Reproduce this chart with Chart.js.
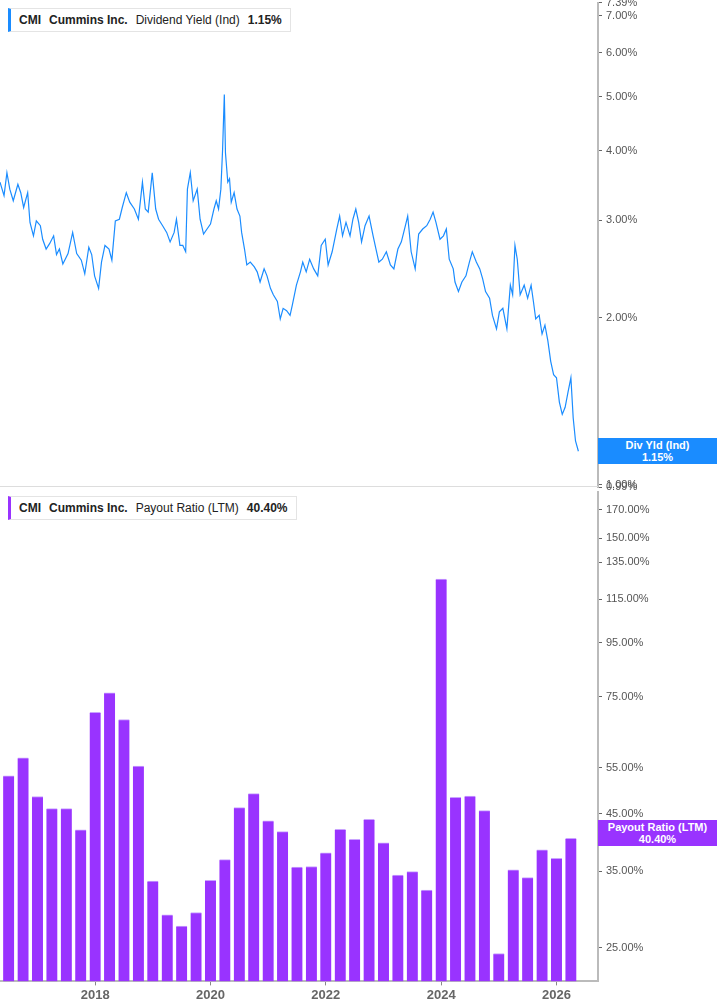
<!DOCTYPE html>
<html>
<head>
<meta charset="utf-8">
<script src="https://cdn.jsdelivr.net/npm/chart.js@4"></script>
<style>
  body { margin: 0; width: 717px; height: 1005px; background: #fff; position: relative; overflow: hidden; font-family: "Liberation Sans", Arial, sans-serif; }
  .panel { position: absolute; left: 0; width: 717px; }
  .legend { position: absolute; left: 8px; background: #fff; border: 1px solid #e4e4e4; border-left: 3px solid; font-size: 12px; color: #222; padding: 4px 8px 4px 8px; white-space: nowrap; }
  .legend b { margin-right: 8px; }
  .legend span { margin-right: 8px; }
  .tag { position: absolute; left: 598px; width: 119px; color: #fff; font-size: 11px; font-weight: bold; text-align: center; line-height: 12px; padding: 1px 0; }
  .sep { position: absolute; left: 0; width: 598px; top: 486px; height: 1px; background: #ddd; }
</style>
</head>
<body>
<div class="panel" style="top:-8px;height:506px"><canvas id="yieldChart"></canvas></div>
<div class="panel" style="top:481px;height:524px"><canvas id="payoutChart"></canvas></div>
<div class="sep"></div>
<div class="legend" style="top:8px;border-left-color:#1a8cff"><b>CMI</b><b>Cummins Inc.</b><span>Dividend Yield (Ind)</span><b style="margin-right:0">1.15%</b></div>
<div class="legend" style="top:496px;border-left-color:#9933ff"><b>CMI</b><b>Cummins Inc.</b><span>Payout Ratio (LTM)</span><b style="margin-right:0">40.40%</b></div>
<div class="tag" style="top:438px;background:#1a8cff">Div Yld (Ind)<br>1.15%</div>
<div class="tag" style="top:820px;background:#9933ff">Payout Ratio (LTM)<br>40.40%</div>
<script>
// dividend yield (%), decimal years
const yieldDates = [2016.35,2016.42,2016.47,2016.52,2016.58,2016.66,2016.71,2016.76,2016.83,2016.87,2016.93,2016.98,2017.05,2017.09,2017.15,2017.21,2017.28,2017.33,2017.38,2017.44,2017.53,2017.61,2017.68,2017.76,2017.82,2017.89,2017.94,2017.99,2018.06,2018.11,2018.17,2018.24,2018.29,2018.35,2018.42,2018.47,2018.54,2018.60,2018.68,2018.75,2018.82,2018.87,2018.92,2018.99,2019.05,2019.10,2019.17,2019.24,2019.30,2019.37,2019.41,2019.47,2019.52,2019.57,2019.60,2019.65,2019.70,2019.77,2019.82,2019.88,2019.94,2020.00,2020.06,2020.10,2020.14,2020.18,2020.21,2020.24,2020.26,2020.30,2020.33,2020.36,2020.41,2020.46,2020.51,2020.54,2020.59,2020.63,2020.69,2020.76,2020.81,2020.86,2020.93,2020.98,2021.04,2021.09,2021.16,2021.21,2021.26,2021.32,2021.38,2021.42,2021.49,2021.56,2021.60,2021.66,2021.72,2021.79,2021.86,2021.92,2021.99,2022.04,2022.11,2022.19,2022.24,2022.29,2022.35,2022.42,2022.47,2022.52,2022.57,2022.62,2022.68,2022.75,2022.82,2022.87,2022.92,2022.98,2023.05,2023.12,2023.18,2023.25,2023.31,2023.38,2023.42,2023.48,2023.55,2023.61,2023.68,2023.75,2023.81,2023.86,2023.91,2023.98,2024.04,2024.09,2024.14,2024.21,2024.24,2024.30,2024.36,2024.43,2024.49,2024.54,2024.61,2024.67,2024.72,2024.77,2024.84,2024.89,2024.96,2025.01,2025.07,2025.14,2025.20,2025.24,2025.28,2025.32,2025.37,2025.44,2025.50,2025.56,2025.60,2025.64,2025.70,2025.75,2025.80,2025.85,2025.90,2025.95,2026.00,2026.05,2026.10,2026.15,2026.20,2026.25,2026.29,2026.33,2026.38];
const yieldValues = [3.51,3.32,3.65,3.41,3.25,3.48,3.36,3.16,3.36,2.97,2.81,2.99,2.93,2.77,2.66,2.72,2.81,2.60,2.66,2.50,2.61,2.85,2.61,2.54,2.40,2.68,2.60,2.38,2.26,2.52,2.70,2.66,2.54,2.99,3.01,3.16,3.36,3.23,3.14,3.01,3.51,3.14,3.10,3.65,3.14,3.01,2.93,2.85,2.74,2.85,3.01,2.70,2.70,2.63,3.41,3.65,3.25,3.41,3.01,2.83,2.89,2.95,3.14,3.25,3.14,3.41,4.02,5.05,3.96,3.51,3.56,3.23,3.36,3.14,3.05,2.85,2.66,2.49,2.52,2.47,2.42,2.32,2.45,2.38,2.26,2.20,2.14,1.99,2.08,2.06,2.02,2.11,2.29,2.42,2.52,2.42,2.55,2.45,2.38,2.70,2.77,2.49,2.63,2.89,3.05,2.81,2.97,2.81,3.01,3.14,2.97,2.74,2.93,3.05,2.81,2.66,2.52,2.55,2.63,2.49,2.45,2.66,2.74,2.93,3.05,2.63,2.45,2.83,2.89,2.93,3.01,3.10,2.97,2.77,2.81,2.89,2.55,2.45,2.32,2.23,2.32,2.38,2.52,2.63,2.52,2.45,2.35,2.23,2.17,2.02,1.91,2.05,2.08,1.91,2.29,2.20,2.70,2.55,2.20,2.29,2.17,2.29,2.14,1.99,2.02,1.87,1.94,1.82,1.67,1.58,1.56,1.41,1.34,1.38,1.47,1.56,1.32,1.20,1.15];
const yieldTicks = [0.99,1.00,2.00,3.00,4.00,5.00,6.00,7.00,7.39];

// payout ratio (%), quarterly
const payoutDates = [2016.50,2016.75,2017.00,2017.25,2017.50,2017.75,2018.00,2018.25,2018.50,2018.75,2019.00,2019.25,2019.50,2019.75,2020.00,2020.25,2020.50,2020.75,2021.00,2021.25,2021.50,2021.75,2022.00,2022.25,2022.50,2022.75,2023.00,2023.25,2023.50,2023.75,2024.00,2024.25,2024.50,2024.75,2025.00,2025.25,2025.50,2025.75,2026.00,2026.25];
const payoutValues = [53.1,57.4,48.5,46.0,46.0,41.9,70.1,76.3,67.9,55.4,33.5,28.9,27.5,29.2,33.6,36.8,46.2,49.1,43.6,41.6,35.6,35.7,37.9,42.0,40.2,43.9,39.6,34.4,34.9,32.2,125.5,48.3,48.6,45.6,24.4,35.2,34.0,38.4,37.0,40.4];
const payoutTicks = [25,35,45,55,75,95,115,135,150,170];
const yearTicks = [2018,2020,2022,2024,2026];

const X_MIN = 2016.35, X_MAX = 2026.72;

const yAxis = (min, max, ticks) => ({
    type: 'logarithmic',
    position: 'right',
    min: min,
    max: max,
    afterBuildTicks: (s) => { s.ticks = ticks.map(v => ({ value: v })); },
    afterFit: (s) => { s.width = 119; },
    ticks: {
        autoSkip: false,
        color: '#555',
        font: { family: 'Liberation Sans', size: 11 },
        padding: 4,
        callback: (v) => Number(v).toFixed(2) + '%'
    },
    grid: { drawOnChartArea: false, color: '#666', tickLength: 4 },
    border: { color: '#bbb', width: 2 }
});

new Chart(document.getElementById('yieldChart'), {
    type: 'line',
    data: {
        datasets: [{
            data: yieldDates.map((d, i) => ({ x: d, y: yieldValues[i] })),
            borderColor: '#1a8cff',
            borderWidth: 1.2,
            pointRadius: 0,
            tension: 0
        }]
    },
    options: {
        responsive: true,
        maintainAspectRatio: false,
        animation: false,
        layout: { padding: { top: 2, bottom: 3 } },
        plugins: { legend: { display: false }, tooltip: { enabled: false } },
        scales: {
            x: { type: 'linear', min: X_MIN, max: X_MAX, display: false },
            y: yAxis(0.99, 7.39, yieldTicks)
        }
    }
});

new Chart(document.getElementById('payoutChart'), {
    type: 'bar',
    data: {
        datasets: [{
            data: payoutDates.map((d, i) => ({ x: d, y: payoutValues[i] })),
            backgroundColor: '#9933ff',
            borderColor: '#c9a3ff',
            borderWidth: { top: 1, left: 0, right: 0, bottom: 0 },
            barThickness: 11
        }]
    },
    options: {
        responsive: true,
        maintainAspectRatio: false,
        animation: false,
        layout: { padding: { top: 3 } },
        plugins: { legend: { display: false }, tooltip: { enabled: false } },
        scales: {
            x: {
                type: 'linear',
                min: X_MIN,
                max: X_MAX,
                offset: false,
                afterBuildTicks: (s) => { s.ticks = yearTicks.map(v => ({ value: v })); },
                ticks: {
                    color: '#666',
                    font: { family: 'Liberation Sans', size: 13, weight: 'bold' },
                    padding: 2,
                    callback: (v) => String(v)
                },
                grid: { offset: false, drawOnChartArea: false, color: '#888', tickLength: 4 },
                border: { color: '#bbb', width: 2 }
            },
            y: yAxis(21.6, 184, payoutTicks)
        }
    }
});
</script>
</body>
</html>
